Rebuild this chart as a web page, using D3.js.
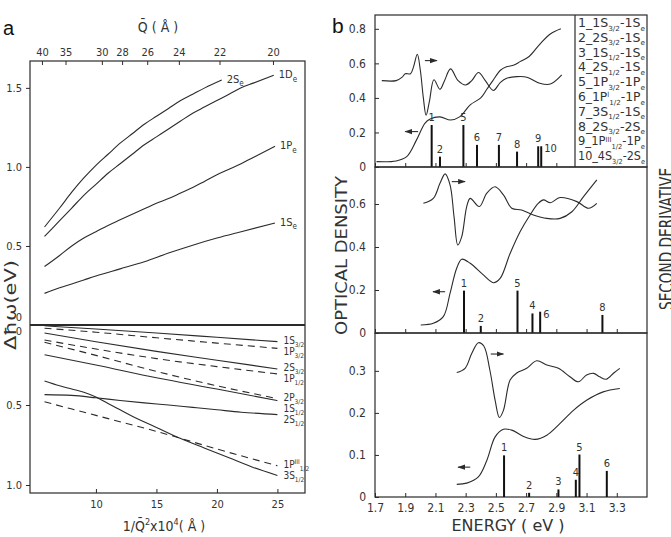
<!DOCTYPE html>
<html>
<head>
<meta charset="utf-8">
<script src="https://cdn.jsdelivr.net/npm/d3@7"></script>
<style>
  body { margin: 0; background: #fff; }
  svg text { font-family: "DejaVu Sans Condensed", "DejaVu Sans", sans-serif; fill: #333; }
</style>
</head>
<body>
<svg id="fig" width="671" height="537"></svg>
<script>
// ---------- panel a data: x = 1/Q^2 x 10^4, y = Δħω (eV) ----------
const qTicks = [40, 35, 30, 28, 26, 24, 22, 20];
const invQ2Ticks = [10, 15, 20, 25];
const upperTicks = [0, 0.5, 1.0, 1.5];
const lowerTicks = [0, 0.5, 1.0];

// electron levels (upper half)
const e2S = [[5.75,0.62],[7,0.74],[8,0.84],[9,0.93],[10,1.01],[11,1.08],[12,1.15],[13,1.21],[14,1.27],[15,1.32],[16,1.37],[17,1.42],[18,1.46],[19,1.50],[20.4,1.55]];
const e1D = [[5.75,0.56],[7,0.66],[8,0.74],[9,0.82],[10,0.89],[11,0.96],[12,1.02],[13,1.08],[14,1.14],[15,1.19],[16,1.24],[17,1.29],[18,1.34],[19,1.38],[20,1.42],[21,1.46],[22,1.50],[23,1.53],[24.7,1.58]];
const e1P = [[5.75,0.37],[7,0.44],[8,0.50],[9,0.55],[10,0.59],[11,0.63],[12,0.665],[13,0.70],[14,0.735],[15,0.77],[16,0.80],[17,0.835],[18,0.87],[19,0.91],[20,0.95],[21,0.985],[22,1.02],[23,1.06],[24.8,1.13]];
const e1S = [[5.75,0.20],[7,0.235],[8,0.26],[9,0.285],[10,0.31],[12,0.355],[14,0.40],[16,0.455],[18,0.505],[20,0.55],[22,0.59],[24.8,0.645]];

// hole levels (lower half, plotted downward)
const h1S32 = [[5.75,0.005],[10,0.025],[15,0.05],[20,0.077],[25,0.104]];
const h1P32 = [[5.75,0.02],[10,0.045],[15,0.08],[20,0.113],[25,0.146]];
const h2S32 = [[5.75,0.05],[10,0.105],[15,0.165],[20,0.22],[25,0.275]];
const h1P12 = [[5.75,0.094],[10,0.15],[15,0.21],[20,0.26],[25,0.306]];
const h2P32 = [[5.75,0.108],[10,0.19],[15,0.29],[20,0.38],[25,0.46]];
const h1S12 = [[5.75,0.186],[10,0.25],[15,0.33],[20,0.40],[25,0.473]];
const h2S12 = [[5.75,0.435],[8,0.44],[10,0.455],[12,0.472],[14,0.487],[16,0.50],[18,0.515],[20,0.53],[22,0.545],[25,0.56]];
const h1P12III = [[5.75,0.48],[10,0.565],[15,0.665],[20,0.775],[25,0.88]];
const h3S12 = [[5.75,0.35],[7,0.38],[8,0.40],[9,0.42],[10,0.45],[11,0.49],[12,0.53],[13,0.57],[15,0.64],[17,0.71],[19,0.77],[21,0.83],[23,0.89],[25,0.94]];

const electronCurves = [
  { label: "2S_{e}", pts: e2S }, { label: "1D_{e}", pts: e1D },
  { label: "1P_{e}", pts: e1P }, { label: "1S_{e}", pts: e1S }
];
const holeCurves = [
  { label: "1S_{3/2}", pts: h1S32, dashed: false },
  { label: "1P_{3/2}", pts: h1P32, dashed: true },
  { label: "2S_{3/2}", pts: h2S32, dashed: false },
  { label: "1P_{1/2}", pts: h1P12, dashed: true },
  { label: "2P_{3/2}", pts: h2P32, dashed: true },
  { label: "1S_{1/2}", pts: h1S12, dashed: false },
  { label: "2S_{1/2}", pts: h2S12, dashed: false },
  { label: "1P^{III}_{1/2}", pts: h1P12III, dashed: true },
  { label: "3S_{1/2}", pts: h3S12, dashed: false }
];

// ---------- panel b data: x = energy (eV), y = optical density ----------
const energyTicks = [1.7, 1.9, 2.1, 2.3, 2.5, 2.7, 2.9, 3.1, 3.3];

const absB1 = [[1.71,0.031],[1.84,0.035],[1.91,0.06],[1.975,0.157],[2.03,0.253],[2.065,0.278],[2.13,0.29],[2.2,0.272],[2.26,0.29],[2.33,0.36],[2.40,0.40],[2.44,0.45],[2.48,0.50],[2.53,0.56],[2.57,0.58],[2.62,0.59],[2.66,0.61],[2.72,0.64],[2.79,0.71],[2.86,0.77],[2.93,0.80]];
const derB1 = [[1.745,0.50],[1.84,0.50],[1.88,0.52],[1.90,0.54],[1.935,0.54],[1.955,0.58],[1.98,0.653],[2.0,0.56],[2.02,0.40],[2.038,0.30],[2.06,0.38],[2.09,0.505],[2.13,0.45],[2.16,0.50],[2.2,0.568],[2.25,0.50],[2.3,0.475],[2.34,0.50],[2.385,0.547],[2.43,0.50],[2.483,0.443],[2.53,0.49],[2.572,0.514],[2.638,0.523],[2.705,0.52],[2.79,0.485],[2.86,0.48],[2.936,0.533]];
const sticksB1 = [
  { n: "1", e: 2.075, h: 0.243 }, { n: "2", e: 2.13, h: 0.06 }, { n: "5", e: 2.285, h: 0.243 },
  { n: "6", e: 2.375, h: 0.128 }, { n: "7", e: 2.52, h: 0.128 }, { n: "8", e: 2.64, h: 0.089 },
  { n: "9", e: 2.78, h: 0.12 }, { n: "10", e: 2.80, h: 0.12 }
];
const arrowsB1 = [{ from: 2.03, to: 2.11, v: 0.616 }, { from: 1.985, to: 1.90, v: 0.205 }];

const absB2 = [[2.003,0.037],[2.086,0.045],[2.152,0.076],[2.197,0.185],[2.24,0.30],[2.274,0.343],[2.33,0.324],[2.417,0.27],[2.483,0.234],[2.528,0.254],[2.594,0.37],[2.66,0.471],[2.726,0.549],[2.78,0.603],[2.815,0.619],[2.86,0.606],[2.925,0.63],[3.036,0.611],[3.113,0.58],[3.168,0.603]];
const derB2 = [[2.02,0.603],[2.086,0.626],[2.13,0.696],[2.164,0.74],[2.197,0.688],[2.223,0.541],[2.248,0.409],[2.274,0.448],[2.307,0.588],[2.33,0.626],[2.39,0.588],[2.44,0.65],[2.495,0.68],[2.55,0.642],[2.605,0.58],[2.67,0.572],[2.748,0.549],[2.837,0.533],[2.925,0.533],[3.003,0.564],[3.08,0.634],[3.168,0.712]];
const sticksB2 = [
  { n: "1", e: 2.289, h: 0.197 }, { n: "2", e: 2.40, h: 0.033 }, { n: "5", e: 2.643, h: 0.197 },
  { n: "4", e: 2.742, h: 0.091 }, { n: "6", e: 2.793, h: 0.099 }, { n: "8", e: 3.205, h: 0.084 }
];
const arrowsB2 = [{ from: 2.208, to: 2.296, v: 0.704 }, { from: 2.164, to: 2.084, v: 0.192 }];

const absB3 = [[2.241,0.030],[2.307,0.033],[2.384,0.048],[2.44,0.087],[2.495,0.143],[2.55,0.161],[2.605,0.159],[2.683,0.144],[2.76,0.137],[2.837,0.147],[2.925,0.175],[3.013,0.206],[3.1,0.23],[3.21,0.25],[3.32,0.258]];
const derB3 = [[2.241,0.296],[2.296,0.306],[2.34,0.341],[2.384,0.367],[2.42,0.359],[2.46,0.302],[2.495,0.23],[2.523,0.189],[2.55,0.206],[2.594,0.278],[2.638,0.295],[2.704,0.306],[2.77,0.324],[2.837,0.314],[2.914,0.306],[2.99,0.286],[3.046,0.274],[3.1,0.29],[3.146,0.294],[3.186,0.286],[3.23,0.28],[3.28,0.295],[3.32,0.306]];
const sticksB3 = [
  { n: "1", e: 2.554, h: 0.099 }, { n: "2", e: 2.72, h: 0.010 }, { n: "3", e: 2.914, h: 0.018 },
  { n: "4", e: 3.029, h: 0.041 }, { n: "5", e: 3.053, h: 0.101 }, { n: "6", e: 3.234, h: 0.062 }
];
const arrowsB3 = [{ from: 2.466, to: 2.55, v: 0.34 }, { from: 2.33, to: 2.25, v: 0.071 }];

const legendItems = [
  "1_1S_{3/2}-1S_{e}", "2_2S_{3/2}-1S_{e}", "3_1S_{1/2}-1S_{e}", "4_2S_{1/2}-1S_{e}",
  "5_1P_{3/2}-1P_{e}", "6_1P^{l}_{1/2}-1P_{e}", "7_3S_{1/2}-1S_{e}", "8_2S_{3/2}-2S_{e}",
  "9_1P^{III}_{1/2}-1P_{e}", "10_4S_{3/2}-2S_{e}"
];

// ---------- helpers ----------
const svg = d3.select("#fig");
const ink = "#2b2b2b";

svg.append("defs").append("marker")
  .attr("id", "head").attr("viewBox", "0 0 10 10").attr("refX", 9).attr("refY", 5)
  .attr("markerWidth", 7).attr("markerHeight", 7).attr("orient", "auto-start-reverse")
  .append("path").attr("d", "M0,1.5 L10,5 L0,8.5 Z").attr("fill", ink);

// text with _{sub} and ^{sup} parts (sup and sub sit side by side)
function rich(text, str, fs, small, supRise = 0.42) {
  const parts = str.split(/(\^\{[^}]*\}|_\{[^}]*\})/).filter(s => s.length);
  let base = 0;
  parts.forEach(p => {
    let off = 0, s = p, size = fs;
    if (p.startsWith("^{")) { off = -supRise * fs; s = p.slice(2, -1); size = small; }
    if (p.startsWith("_{")) { off = 0.3 * fs; s = p.slice(2, -1); size = small; }
    text.append("tspan").attr("font-size", size).attr("dy", off - base).text(s);
    base = off;
  });
}

function styleAxis(g, fs) {
  g.select(".domain").remove();
  g.selectAll("line").attr("stroke", ink);
  g.selectAll("text").attr("font-size", fs).attr("fill", "#333")
    .style("font-family", '"DejaVu Sans Condensed", "DejaVu Sans", sans-serif');
}

// rotated label that spans [y0, y1] (bottom to top) at baseline x
function vLabel(parent, str, x, y0, y1, fs) {
  return parent.append("text").attr("transform", `translate(${x},${y0}) rotate(-90)`)
    .attr("font-size", fs).attr("textLength", y0 - y1).attr("lengthAdjust", "spacingAndGlyphs").text(str);
}

// ---------- panel a ----------
const A = { left: 30, right: 305, top: 61, mid: 325, bottom: 493 };
const ax = d3.scaleLinear().domain([4.55, 27.28]).range([A.left, A.right]);
const axTop = d3.scaleLinear().domain([5.28, 27.6]).range([A.left, A.right]);
const ayU = d3.scaleLinear().domain([0, 1.67]).range([A.mid, A.top]);
const ayL = d3.scaleLinear().domain([0, 1.05]).range([A.mid, A.bottom]);

const pa = svg.append("g");
pa.append("rect").attr("x", A.left).attr("y", A.top).attr("width", A.right - A.left)
  .attr("height", A.bottom - A.top).attr("fill", "none").attr("stroke", ink).attr("stroke-width", 1.2);
pa.append("line").attr("x1", A.left).attr("x2", A.right).attr("y1", A.mid).attr("y2", A.mid)
  .attr("stroke", ink).attr("stroke-width", 2);

pa.append("g").attr("transform", `translate(0,${A.top})`)
  .call(d3.axisTop(axTop).tickValues(qTicks.map(q => 1e4 / (q * q)))
    .tickFormat((d, i) => qTicks[i]).tickSizeInner(-4).tickSizeOuter(0).tickPadding(5))
  .call(g => styleAxis(g, 11));

pa.append("g").attr("transform", `translate(0,${A.bottom})`)
  .call(d3.axisBottom(ax).tickValues(invQ2Ticks).tickSizeInner(-4).tickSizeOuter(0).tickPadding(7))
  .call(g => styleAxis(g, 11));

const fmtA = d => d === 0 ? "0" : d.toFixed(1);
pa.append("g").attr("transform", `translate(${A.left},0)`)
  .call(d3.axisLeft(ayU).tickValues(upperTicks).tickFormat(fmtA).tickSize(4).tickPadding(4))
  .call(g => styleAxis(g, 11))
  .call(g => { g.selectAll(".tick").filter(d => d === 0).select("line").remove();
               g.selectAll(".tick").filter(d => d === 0).select("text").attr("y", -8); });
pa.append("g").attr("transform", `translate(${A.left},0)`)
  .call(d3.axisLeft(ayL).tickValues(lowerTicks).tickFormat(fmtA).tickSize(4).tickPadding(4))
  .call(g => styleAxis(g, 11))
  .call(g => { g.selectAll(".tick").filter(d => d === 0).select("line").remove();
               g.selectAll(".tick").filter(d => d === 0).select("text").attr("y", 6); });

const lineU = d3.line().x(d => ax(d[0])).y(d => ayU(d[1])).curve(d3.curveMonotoneX);
const lineL = d3.line().x(d => ax(d[0])).y(d => ayL(d[1])).curve(d3.curveMonotoneX);

electronCurves.forEach(c => {
  pa.append("path").attr("d", lineU(c.pts)).attr("fill", "none").attr("stroke", ink).attr("stroke-width", 1.1);
  const end = c.pts[c.pts.length - 1];
  const t = pa.append("text").attr("x", ax(end[0]) + 5).attr("y", ayU(end[1]) + 3);
  rich(t, c.label, 11, 8);
});

holeCurves.forEach(c => {
  pa.append("path").attr("d", lineL(c.pts)).attr("fill", "none").attr("stroke", ink)
    .attr("stroke-width", 1.1).attr("stroke-dasharray", c.dashed ? "7,5" : null);
});
const holeEnds = holeCurves.map(c => ({ c, y: ayL(c.pts[c.pts.length - 1][1]) })).sort((a, b) => a.y - b.y);
let prevY = -Infinity;
holeEnds.forEach(e => {
  const ly = Math.max(e.y, prevY + 11); prevY = ly;
  const end = e.c.pts[e.c.pts.length - 1];
  const t = pa.append("text").attr("x", ax(end[0]) + 6).attr("y", ly + 2);
  rich(t, e.c.label, 10, 6.5);
});

pa.append("text").attr("x", 3).attr("y", 35).attr("font-size", 20)
  .style("font-family", '"Liberation Sans", Arial, sans-serif').style("fill", "#111").text("a");
pa.append("text").attr("x", 158).attr("y", 32).attr("text-anchor", "middle").attr("font-size", 14)
  .text("Q\u0304 ( Å )");
{
  const t = pa.append("text").attr("x", 164).attr("y", 531).attr("text-anchor", "middle");
  rich(t, "1/Q\u0304^{2}x10^{4}( Å )", 14, 9);
}
vLabel(pa, "Δħω(eV)", 16, 350, 260, 15);

// ---------- panel b ----------
const B = { left: 375, right: 647, legendLeft: 575 };
const bx = d3.scaleLinear().domain([1.7, 3.5]).range([B.left, B.right]);
const subpanels = [
  { top: 15, bottom: 167, max: 0.88, ticks: [0, 0.2, 0.4, 0.6, 0.8], abs: absB1, der: derB1, sticks: sticksB1, arrows: arrowsB1, legend: true },
  { top: 167, bottom: 333, max: 0.772, ticks: [0, 0.2, 0.4, 0.6], abs: absB2, der: derB2, sticks: sticksB2, arrows: arrowsB2 },
  { top: 333, bottom: 497, max: 0.39, ticks: [0, 0.1, 0.2, 0.3], abs: absB3, der: derB3, sticks: sticksB3, arrows: arrowsB3, labels: true }
];

const pb = svg.append("g");
subpanels.forEach(p => {
  const y = d3.scaleLinear().domain([0, p.max]).range([p.bottom, p.top]);
  const g = pb.append("g");
  g.append("rect").attr("x", B.left).attr("y", p.top).attr("width", B.right - B.left)
    .attr("height", p.bottom - p.top).attr("fill", "none").attr("stroke", ink).attr("stroke-width", 1.2);

  g.append("g").attr("transform", `translate(${B.left},0)`)
    .call(d3.axisLeft(y).tickValues(p.ticks).tickFormat(d => d === 0 ? "0" : d.toFixed(1))
      .tickSizeInner(-4).tickSizeOuter(0).tickPadding(9))
    .call(ax => styleAxis(ax, 12));

  const xt = p.legend ? energyTicks.filter(e => bx(e) < B.legendLeft) : energyTicks;
  g.append("g").attr("transform", `translate(0,${p.bottom})`)
    .call(d3.axisBottom(bx).tickValues(xt).tickFormat(p.labels ? d3.format(".1f") : "")
      .tickSizeInner(-4).tickSizeOuter(0).tickPadding(6))
    .call(ax => styleAxis(ax, 12));

  const line = d3.line().x(d => bx(d[0])).y(d => y(d[1])).curve(d3.curveCatmullRom.alpha(0.5));
  [p.abs, p.der].forEach(s => g.append("path").attr("d", line(s)).attr("fill", "none")
    .attr("stroke", ink).attr("stroke-width", 1.1));

  let last = null;
  p.sticks.forEach(s => {
    g.append("rect").attr("x", bx(s.e) - 1).attr("y", y(s.h)).attr("width", 2)
      .attr("height", y(0) - y(s.h)).attr("fill", "#111");
    let lx = bx(s.e), ly = y(s.h) - 4, anchor = "middle";
    if (last && Math.abs(lx - last.x) < 8 && Math.abs(ly - last.y) < 10) {
      lx += 3; ly = y(s.h) + 6; anchor = "start";
    }
    g.append("text").attr("x", lx).attr("y", ly).attr("text-anchor", anchor).attr("font-size", 11).text(s.n);
    last = { x: bx(s.e), y: ly };
  });

  p.arrows.forEach(a => g.append("line").attr("x1", bx(a.from)).attr("x2", bx(a.to))
    .attr("y1", y(a.v)).attr("y2", y(a.v)).attr("stroke", ink).attr("stroke-width", 1.1)
    .attr("marker-end", "url(#head)"));

  if (p.legend) {
    g.append("line").attr("x1", B.legendLeft).attr("x2", B.legendLeft).attr("y1", p.top).attr("y2", p.bottom)
      .attr("stroke", ink).attr("stroke-width", 1.2);
    const rowH = (p.bottom - p.top - 4) / legendItems.length;
    legendItems.forEach((item, i) => {
      const t = g.append("text").attr("x", B.legendLeft + 3).attr("y", p.top + 12 + i * rowH)
        .attr("textLength", 67).attr("lengthAdjust", "spacingAndGlyphs");
      rich(t, item, 12, 7, 0.3);
    });
  }
});

pb.append("text").attr("x", 332).attr("y", 33).attr("font-size", 21)
  .style("font-family", '"Liberation Sans", Arial, sans-serif').style("fill", "#111").text("b");
vLabel(pb, "OPTICAL DENSITY", 347, 335, 176, 16);
vLabel(pb, "SECOND DERIVATIVE", 673, 310, 168, 19);
pb.append("text").attr("x", 508).attr("y", 531).attr("text-anchor", "middle").attr("font-size", 15)
  .attr("textLength", 113).attr("lengthAdjust", "spacingAndGlyphs").text("ENERGY ( eV )");
</script>
</body>
</html>
